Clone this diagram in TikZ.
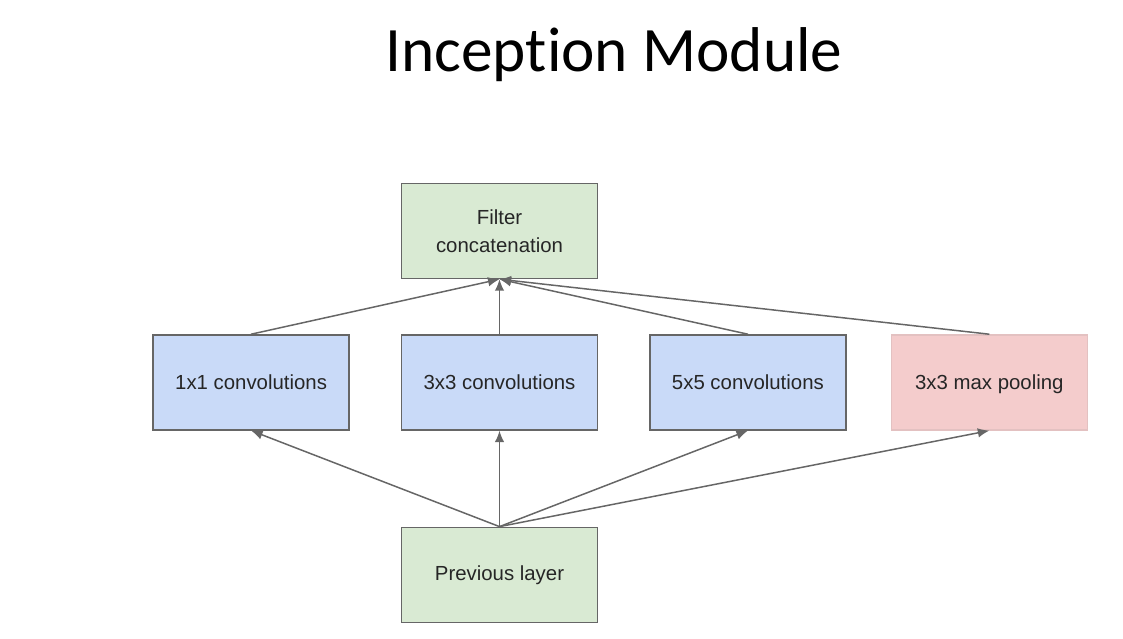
\documentclass[tikz,border=0pt]{standalone}
\usepackage{fontspec}
\setmainfont{Liberation Sans}
\newfontfamily\titlefont[Ligatures=NoCommon]{Carlito}
\usepackage{xcolor}
\usepackage{tikz}
\usetikzlibrary{positioning, arrows.meta}

\definecolor{boxgreen}{HTML}{D9EAD3}
\definecolor{boxblue}{HTML}{C9DAF8}
\definecolor{boxpink}{HTML}{F4CCCC}
\definecolor{edgegray}{HTML}{666666}

\begin{document}
\begin{tikzpicture}[
    layernode/.style={rectangle, draw=edgegray, line width=0.8pt, minimum width=3.92cm, minimum height=1.9cm, align=center, font=\fontsize{11.6}{14}\selectfont, text=black!85},
    convnode/.style={layernode, fill=boxblue},
    concatnode/.style={layernode, fill=boxgreen},
    poolnode/.style={layernode, fill=boxpink, draw=boxpink!85!gray, text depth=0pt},
    flow/.style={draw=edgegray, line width=0.85pt, -{Latex[length=2.3mm,width=1.9mm]}},
]
\useasboundingbox (0,0) rectangle (22.46,-12.76);
\node[anchor=base] (title) at (12.28,-1.42) {\titlefont\fontsize{36}{43}\selectfont Inception Module};

\node[concatnode](concat) at (9.99,-4.62){Filter\\[2pt]concatenation};
\node[convnode](conv3)[below = 1.1cm of concat]{3x3 convolutions};
\node[convnode](conv1)[left = 1.02cm of conv3]{1x1 convolutions};
\node[convnode](conv5)[right = 1.02cm of conv3]{5x5 convolutions};
\node[poolnode](pool)[right = 0.88cm of conv5]{3x3 max pooling};
\node[concatnode](prev)[below = 1.92cm of conv3]{Previous layer};

\foreach \n in {conv1, conv3, conv5, pool}{
    \draw[flow] (prev.north) -- (\n.south);
    \draw[flow] (\n.north) -- (concat.south);
}
\end{tikzpicture}
\end{document}
